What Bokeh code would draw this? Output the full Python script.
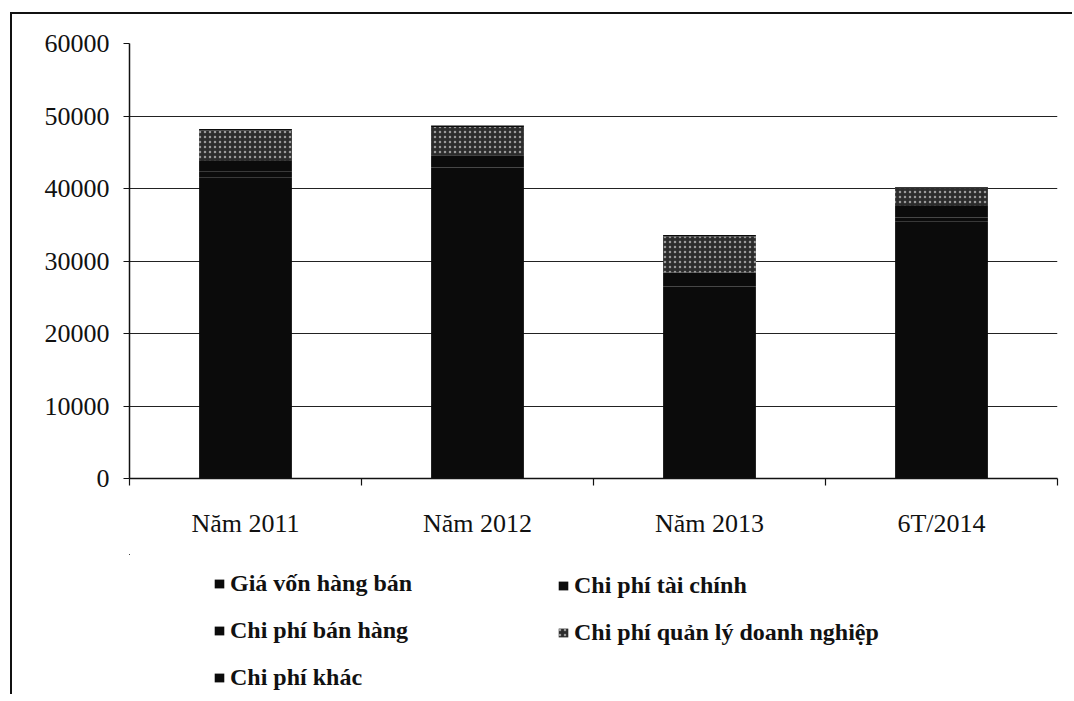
from bokeh.plotting import figure
from bokeh.layouts import column
from bokeh.models import Range1d, FixedTicker, Legend, LegendItem
from bokeh.embed import file_html
from bokeh.resources import INLINE

categories = ["Năm 2011", "Năm 2012", "Năm 2013", "6T/2014"]
series_names = ["Giá vốn hàng bán", "Chi phí tài chính", "Chi phí bán hàng",
                "Chi phí quản lý doanh nghiệp", "Chi phí khác"]
gia_von = [41500, 42000, 26500, 35500]
tai_chinh = [800, 900, 600, 500]
ban_hang = [1500, 1700, 1300, 1600]
quan_ly = [4200, 3900, 5000, 2500]
khac = [200, 200, 200, 100]
y_ticks = [0, 10000, 20000, 30000, 40000, 50000, 60000]

FONT = "Liberation Serif"
n = len(categories)
centers = [i + 0.5 for i in range(n)]
keys = ["gv", "tc", "bh", "ql", "kh"]
data = dict(x=centers, gv=gia_von, tc=tai_chinh, bh=ban_hang, ql=quan_ly, kh=khac)
fills = ["#0b0b0b", "#0b0b0b", "#0b0b0b", "#2c2c2c", "#0b0b0b"]


def style_hatch(rs):
    g = rs[3].glyph
    g.hatch_pattern = "dot"
    g.hatch_color = "#9a9a9a"
    g.hatch_scale = 5
    g.hatch_weight = 1.2


p = figure(width=1060, height=540, x_range=Range1d(0, n),
           y_range=Range1d(0, 60000), output_backend="svg", toolbar_location=None,
           min_border_left=117, min_border_top=29,
           min_border_right=15, min_border_bottom=76)
p.outline_line_color = None
p.xgrid.visible = False
p.ygrid.grid_line_color = "#222222"
p.ygrid.grid_line_width = 1
p.ygrid.ticker = FixedTicker(ticks=y_ticks)

renderers = p.vbar_stack(keys, x="x", width=0.4, source=data, color=fills,
                         line_color=None)
style_hatch(renderers)

# y axis
ya = p.yaxis[0]
ya.ticker = FixedTicker(ticks=y_ticks)
ya.axis_line_color = "#111"
ya.axis_line_width = 1.5
ya.major_tick_line_color = "#111"
ya.major_tick_out = 6
ya.major_tick_in = 0
ya.minor_tick_line_color = None
ya.major_label_text_font = FONT
ya.major_label_text_font_size = "26px"
ya.major_label_text_color = "#111"
ya.major_label_standoff = 14

# x axis: labels at category centres, tick marks at category boundaries
xa = p.xaxis[0]
xa.ticker = FixedTicker(ticks=centers, minor_ticks=list(range(n + 1)))
xa.major_label_overrides = {c: lab for c, lab in zip(centers, categories)}
xa.axis_line_color = "#111"
xa.axis_line_width = 1.5
xa.major_tick_line_color = None
xa.minor_tick_line_color = "#111"
xa.minor_tick_line_width = 1.2
xa.minor_tick_out = 7
xa.minor_tick_in = 0
xa.major_label_text_font = FONT
xa.major_label_text_font_size = "26px"
xa.major_label_text_color = "#111"
xa.major_label_standoff = 23

# legend area (separate panel below the chart; frames are aligned by the column).
# Its ranges lie far from the bars, so the proxy bars only supply legend swatches.
q = figure(width=1060, height=140, x_range=Range1d(1000, 1000 + n),
           y_range=Range1d(-200000, -140000),
           output_backend="svg", toolbar_location=None,
           x_axis_location=None, y_axis_location=None, min_border=0)
q.outline_line_color = None
q.grid.visible = False
proxies = q.vbar_stack(keys, x="x", width=0.4, source=data, color=fills, line_color=None)
style_hatch(proxies)


def make_legend(idx, loc):
    items = [LegendItem(label=series_names[i], renderers=[proxies[i]]) for i in idx]
    lg = Legend(items=items, location=loc, orientation="vertical")
    lg.padding = 0
    lg.margin = 0
    lg.border_line_color = None
    lg.background_fill_color = None
    lg.label_text_font = FONT
    lg.label_text_font_size = "24px"
    lg.label_text_font_style = "bold"
    lg.label_text_color = "#111"
    lg.label_height = 24
    lg.glyph_height = 11
    lg.glyph_width = 12
    lg.label_standoff = 5
    lg.spacing = 20
    return lg


q.add_layout(make_legend([0, 2, 4], (84, 3)), "center")
q.add_layout(make_legend([1, 3], (428, 48)), "center")

page = column(p, q, spacing=0,
              styles={"border-left": "2px solid #111", "border-top": "2px solid #111",
                      "margin-left": "10px", "margin-top": "12px"})

open("out.html", "w").write(file_html(page, INLINE))
